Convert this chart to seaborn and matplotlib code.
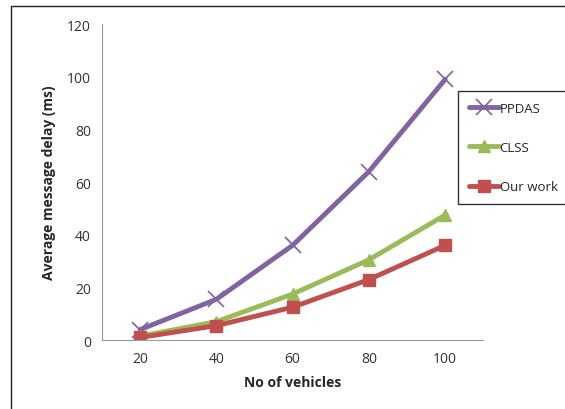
import pandas as pd
import matplotlib.pyplot as plt
import matplotlib.patches as mpatches
import seaborn as sns

# values
vehicles = [20, 40, 60, 80, 100]
ppdas = [4, 15.5, 36, 64, 99]
clss = [1.5, 7, 17.5, 30.5, 47.5]
our_work = [1, 5.5, 12.5, 23, 36]

series_names = ['PPDAS', 'CLSS', 'Our work']
colors = ['#8064A2', '#9BBB59', '#C0504D']
markers = ['x', '^', 's']

df = pd.DataFrame({
    'vehicles': vehicles * 3,
    'delay': ppdas + clss + our_work,
    'series': [n for n in series_names for _ in vehicles],
})

sns.set_style('white')
plt.rcParams['font.family'] = ['Open Sans', 'DejaVu Sans']

fig = plt.figure(figsize=(5.65, 4.10), dpi=100)
ax = fig.add_axes([0.1805, 0.168, 0.675, 0.771])

for name, col, mk in zip(series_names, colors, markers):
    sub = df[df['series'] == name]
    sns.lineplot(data=sub, x='vehicles', y='delay', ax=ax, color=col,
                 linewidth=3.5, marker=mk, markersize=9 if mk != 'x' else 11,
                 markeredgewidth=1.0 if mk != 'x' else 1.2,
                 markeredgecolor=col, label=name)

ax.set_xlim(10, 110)
ax.set_ylim(0, 120)
ax.set_xticks(vehicles)
ax.set_yticks(range(0, 121, 20))
ax.tick_params(axis='both', length=0, labelsize=10, colors='#333333', pad=8)
ax.set_xlabel('No of vehicles', fontsize=10, fontweight='bold', labelpad=6)
ax.set_ylabel('Average message delay (ms)', fontsize=10, fontweight='bold', labelpad=8)
for s in ['top', 'right']:
    ax.spines[s].set_visible(False)
for s in ['left', 'bottom']:
    ax.spines[s].set_color('#999999')
    ax.spines[s].set_linewidth(0.8)

# legend box sits to the right of the plot area, partly over it
leg = ax.legend(loc='upper left', bbox_to_anchor=(458 / 565, 1 - 92 / 410),
                bbox_transform=fig.transFigure, frameon=True, fancybox=False,
                fontsize=9.5, handlelength=2.3, handletextpad=0.05,
                labelspacing=2.0, borderpad=0.8, borderaxespad=0)
leg.get_frame().set_edgecolor('black')
leg.get_frame().set_linewidth(1.0)

# outer border of the picture
fig.patches.append(mpatches.Rectangle((11 / 565, -0.05), 1.0, 1 - 7 / 410 + 0.05,
                                      transform=fig.transFigure, fill=False,
                                      edgecolor='#222222', linewidth=1.0))

fig.savefig('out.png', dpi=100)
